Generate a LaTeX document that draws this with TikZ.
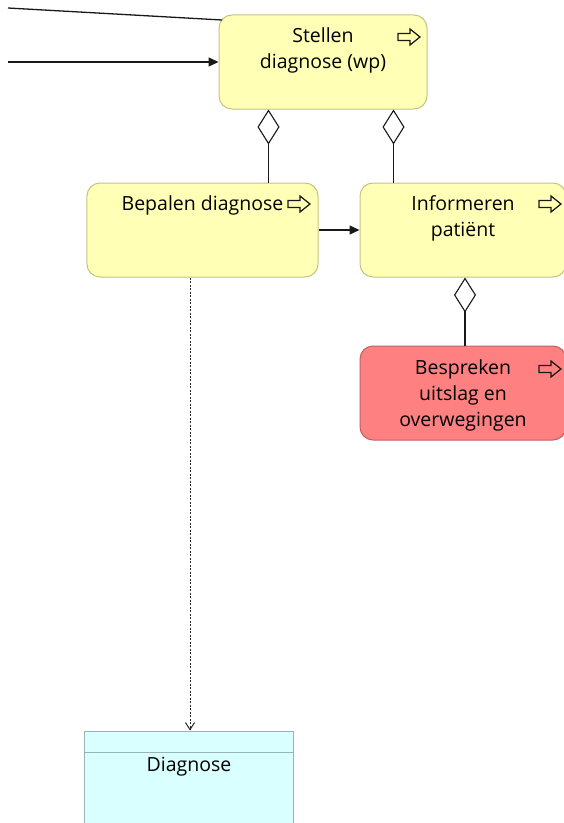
\documentclass[tikz,border=0pt]{standalone}
\usepackage{fontspec}
\setmainfont{Open Sans}
\usetikzlibrary{arrows.meta,calc}
\definecolor{procfill}{RGB}{255,255,181}
\definecolor{procdraw}{RGB}{196,196,128}
\definecolor{redfill}{RGB}{255,128,128}
\definecolor{reddraw}{RGB}{196,96,96}
\definecolor{objfill}{RGB}{217,255,255}
\definecolor{objdraw}{RGB}{150,180,180}
\tikzset{
  procbox/.style={draw=procdraw, fill=procfill, rounded corners=13bp, line width=1bp,
    minimum width=#1, minimum height=94bp, inner sep=0pt},
  redbox/.style={procbox=#1, draw=reddraw, fill=redfill},
  objbox/.style={draw=objdraw, fill=objfill, line width=1bp, inner sep=0pt},
  lbl/.style={font=\fontsize{19.5bp}{26bp}\selectfont, align=center, inner sep=0pt, text=black},
  conn/.style={line width=1.3bp, draw=black!90},
  flow/.style={conn, -{Triangle[length=10bp,width=9bp]}},
  agg/.style={conn, {Diamond[open,length=35bp,width=22bp,line width=1.1bp,fill=white]}-},
  access/.style={line width=1bp, draw=black!85, dash pattern=on 2bp off 1.5bp,
    -{Straight Barb[length=7bp,width=9bp,line width=1bp]}},
  icon/.style={line width=1.2bp, draw=black!90, fill=none, line join=miter}
}
% hollow process arrow drawn around a centre point
\newcommand{\procicon}[1]{%
  \draw[icon] ($(#1)+(-11bp,-3.5bp)$) -- ++(12bp,0) -- ++(0,-4.5bp) -- ++(10bp,8bp)
    -- ++(-10bp,8bp) -- ++(0,-4.5bp) -- ++(-12bp,0) -- cycle;}
\begin{document}
\begin{tikzpicture}[x=1bp,y=-1bp]
\useasboundingbox (0,0) rectangle (564,823);
\clip (0,0) rectangle (564,823);

% processes
\node[procbox=208bp] (stellen) at (323,62) {};
\node[lbl] (stellentxt) at (323,50) {Stellen\\diagnose (wp)};
\node[procbox=231bp] (bepalen) at (202.5,230) {};
\node[lbl] (bepalentxt) at (202.5,205) {Bepalen diagnose};
\node[procbox=206bp] (informeren) at (463,230) {};
\node[lbl] (informerentxt) at (463,218) {Informeren\\patiënt};
\node[redbox=206bp] (bespreken) at (463,393) {};
\node[lbl] (besprekentxt) at (463,395) {Bespreken\\uitslag en\\overwegingen};

% process icons
\coordinate (ic1) at (409,37);
\coordinate (ic2) at (299,204);
\coordinate (ic3) at (550,204);
\coordinate (ic4) at (550,369);
\procicon{ic1}
\procicon{ic2}
\procicon{ic3}
\procicon{ic4}

% data object
\node[objbox, minimum width=208bp, minimum height=110bp] (diagnose) at (189,786) {};
\draw[objdraw, line width=1bp] (85,752) -- (293,752);
\node[lbl] (diagnosetxt) at (189,767) {Diagnose};

% incoming connectors
\coordinate (inA) at (8,8);
\coordinate (inB) at (8,62);
\draw[conn] (inA) -- (222,20);
\draw[flow] (inB) -- (stellen.west);

% aggregations
\draw[agg] (stellen.south -| 268.5,0) -- (bepalen.north -| 268.5,0);
\draw[agg] (stellen.south -| 393.5,0) -- (informeren.north -| 393.5,0);
\draw[agg] (informeren.south -| 465,0) -- (bespreken.north -| 465,0);

% triggering and access
\draw[flow] (bepalen.east) -- (informeren.west);
\draw[access] (bepalen.south -| 190,0) -- (diagnose.north -| 190,0);
\end{tikzpicture}
\end{document}
